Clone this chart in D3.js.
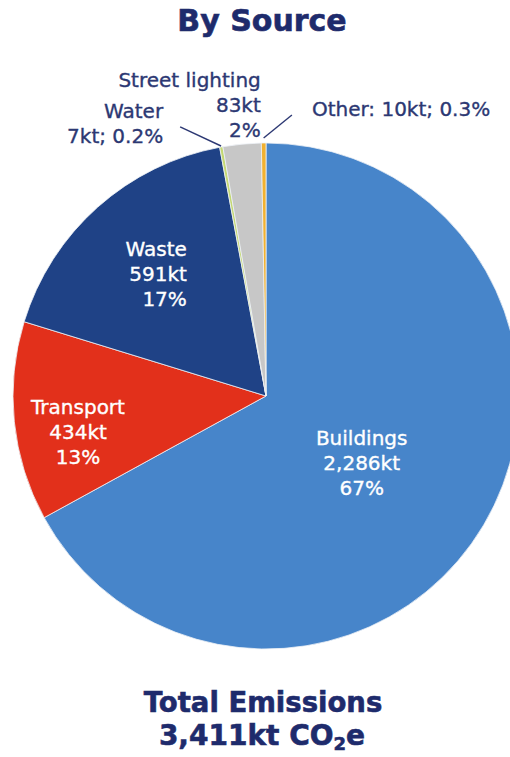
<!DOCTYPE html>
<html>
<head>
<meta charset="utf-8">
<script src="https://cdn.jsdelivr.net/npm/d3@7"></script>
<style>
  html, body { margin: 0; padding: 0; background: #ffffff; }
  svg { display: block; }
  text { font-family: "DejaVu Sans", Verdana, sans-serif; }
</style>
</head>
<body>
<svg id="chart" width="510" height="757"></svg>
<script>
// Emissions by source, kt CO2e (clockwise from 12 o'clock)
const categories = ["Buildings", "Transport", "Waste", "Water", "Street lighting", "Other"];
const emissionsKt = [2286, 434, 591, 7, 83, 10];
const shareLabels = ["67%", "13%", "17%", "0.2%", "2%", "0.3%"];
const totalKt = 3411;

const sliceColors = {
  "Buildings": "#4785ca",
  "Transport": "#e2301b",
  "Waste": "#1f4286",
  "Water": "#c4d873",
  "Street lighting": "#c7c7c7",
  "Other": "#f2b130"
};

// Label placement: polar radius along the slice's mid-angle plus a nudge.
// "layout" decides how each label is composed; "leader" draws a connector.
const fmtKt = v => d3.format(",")(v) + "kt";
const labelStyle = {
  "Buildings":       { r: 117, dx: -5, dy: 7,  anchor: "middle", fill: "#ffffff", layout: "stack" },
  "Transport":       { r: 192, dx: 3,  dy: 16, anchor: "middle", fill: "#ffffff", layout: "stack" },
  "Waste":           { r: 164, dx: 30, dy: 0,  anchor: "end",    fill: "#ffffff", layout: "stack" },
  "Water":           { r: 282, dx: -53, dy: 5, anchor: "end",    fill: "#2c3873", layout: "pair",
                       leader: { sx: 17, sy: 3.5, r: 254 } },
  "Street lighting": { r: 282, dx: 21.5, dy: -10, anchor: "end", fill: "#2c3873", layout: "stack" },
  "Other":           { r: 282, dx: 48.5, dy: -5, anchor: "start", fill: "#2c3873", layout: "inline",
                       leader: { sx: -20, sy: 6, r: 258 } }
};

const W = 510, H = 757;
const cx = 266, cy = 396, radius = 253;
const navy = "#1e2b6c";

const svg = d3.select("#chart");
svg.append("rect").attr("width", W).attr("height", H).attr("fill", "#ffffff");

// Title
svg.append("text")
  .attr("x", 262).attr("y", 31)
  .attr("text-anchor", "middle")
  .attr("font-size", 30).attr("font-weight", "bold")
  .attr("fill", navy)
  .attr("stroke", navy).attr("stroke-width", 0.6)
  .text("By Source");

const data = categories.map((c, i) => ({ name: c, value: emissionsKt[i], share: shareLabels[i] }));

const pie = d3.pie().sort(null).value(d => d.value);
const arcs = pie(data);
const arc = d3.arc().innerRadius(0).outerRadius(radius);

const g = svg.append("g").attr("transform", `translate(${cx},${cy})`);

g.selectAll("path.slice")
  .data(arcs)
  .join("path")
  .attr("class", "slice")
  .attr("d", arc)
  .attr("fill", d => sliceColors[d.data.name])
  .attr("stroke", "#eef1f6")
  .attr("stroke-width", 0.8)
  .attr("stroke-linejoin", "round");

// polar helper using d3's angle convention (0 at top, clockwise)
const polar = (angle, r) => [Math.sin(angle) * r, -Math.cos(angle) * r];

const lineH = 25, capMid = 7, fontSize = 20;

arcs.forEach(a => {
  const d = a.data;
  const st = labelStyle[d.name];
  const mid = (a.startAngle + a.endAngle) / 2;
  const [px, py] = polar(mid, st.r);
  const ax = px + st.dx, ay = py + st.dy;

  let lines;
  if (st.layout === "stack") lines = [d.name, fmtKt(d.value), d.share];
  else if (st.layout === "pair") lines = [d.name, fmtKt(d.value) + "; " + d.share];
  else lines = [d.name + ": " + fmtKt(d.value) + "; " + d.share];

  if (st.leader) {
    const [ex, ey] = polar(mid, st.leader.r);
    g.append("line")
      .attr("x1", ax + st.leader.sx).attr("y1", ay + st.leader.sy)
      .attr("x2", ex).attr("y2", ey)
      .attr("stroke", "#2c3873")
      .attr("stroke-width", 1.4);
  }

  const first = ay - (lines.length - 1) * lineH / 2 + capMid;
  const t = g.append("text")
    .attr("text-anchor", st.anchor)
    .attr("font-size", fontSize)
    .attr("fill", st.fill)
    .attr("stroke", st.fill).attr("stroke-width", 0.35);
  lines.forEach((ln, i) => {
    t.append("tspan").attr("x", ax).attr("y", first + i * lineH).text(ln);
  });
});

// Footer: total emissions
svg.append("text")
  .attr("x", 263).attr("y", 712)
  .attr("text-anchor", "middle")
  .attr("font-size", 27.5).attr("font-weight", "bold")
  .attr("fill", navy)
  .attr("stroke", navy).attr("stroke-width", 0.6)
  .text("Total Emissions");

const tot = svg.append("text")
  .attr("x", 262).attr("y", 745)
  .attr("text-anchor", "middle")
  .attr("font-size", 28).attr("font-weight", "bold")
  .attr("fill", navy)
  .attr("stroke", navy).attr("stroke-width", 0.6);
tot.append("tspan").text(d3.format(",")(totalKt) + "kt CO");
tot.append("tspan").attr("font-size", 18).attr("dy", 5).text("2");
tot.append("tspan").attr("dy", -5).text("e");
</script>
</body>
</html>
